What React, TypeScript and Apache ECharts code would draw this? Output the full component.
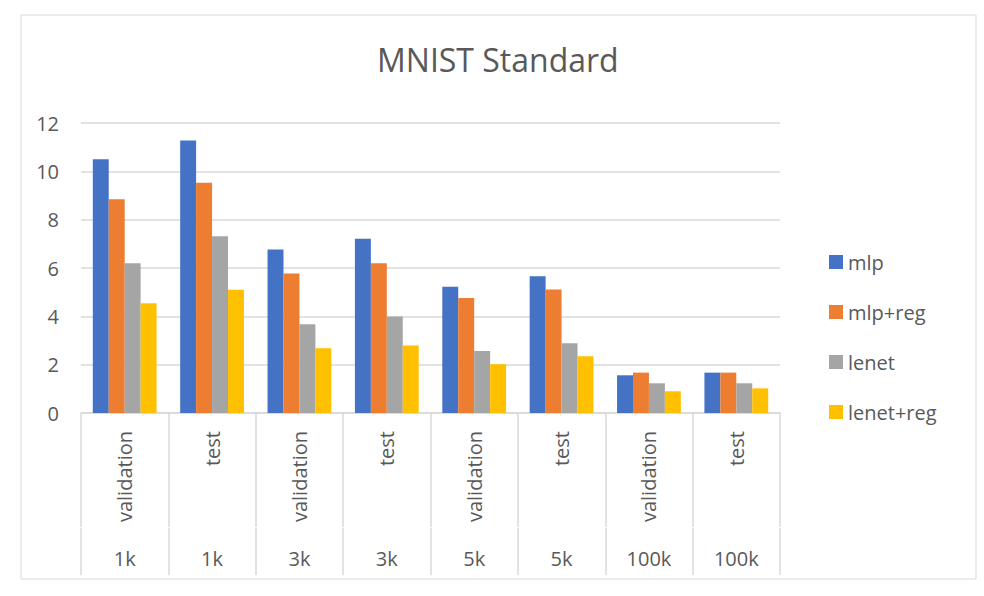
import React, { useEffect, useRef } from "react";
import * as echarts from "echarts";

const splits = ["validation", "test", "validation", "test", "validation", "test", "validation", "test"];
const sizes = ["1k", "1k", "3k", "3k", "5k", "5k", "100k", "100k"];
const seriesNames = ["mlp", "mlp+reg", "lenet", "lenet+reg"];
const mlp = [10.5, 11.28, 6.77, 7.21, 5.22, 5.66, 1.56, 1.67];
const mlpReg = [8.85, 9.53, 5.77, 6.2, 4.76, 5.11, 1.67, 1.67];
const lenet = [6.2, 7.31, 3.67, 3.99, 2.57, 2.89, 1.23, 1.23];
const lenetReg = [4.54, 5.1, 2.68, 2.79, 2.02, 2.35, 0.9, 1.02];
const yTicks = { min: 0, max: 12, interval: 2 };
const colors = ["#4472C4", "#ED7D31", "#A5A5A5", "#FFC000"];

const FONT = "'Open Sans', sans-serif";
const TXT = "#595959";
const LINE = "#d9d9d9";

export default function App() {
  const ref = useRef<HTMLDivElement>(null);
  useEffect(() => {
    if (!ref.current) return;
    const chart = echarts.init(ref.current, undefined, { renderer: "svg" });
    const values = [mlp, mlpReg, lenet, lenetReg];
    chart.setOption({
      animation: false,
      backgroundColor: "#ffffff",
      color: colors,
      title: {
        text: "MNIST Standard",
        left: 372,
        top: 38,
        textStyle: { fontFamily: FONT, fontSize: 32, fontWeight: "normal", color: TXT },
      },
      legend: {
        orient: "vertical",
        left: 824,
        top: 247,
        itemWidth: 14,
        itemHeight: 14,
        itemGap: 30,
        icon: "rect",
        data: seriesNames,
        textStyle: { fontFamily: FONT, fontSize: 20, color: TXT },
      },
      graphic: [
        {
          type: "rect",
          shape: { x: 21, y: 15, width: 955, height: 564 },
          style: { fill: "none", stroke: LINE, lineWidth: 1 },
          silent: true,
        },
      ],
      grid: { left: 81, right: 204, top: 123, bottom: 183, containLabel: false },
      xAxis: [
        {
          type: "category",
          data: splits,
          position: "bottom",
          axisLine: { show: true, lineStyle: { color: LINE, width: 1.5 } },
          axisTick: { show: true, interval: 0, length: 114, lineStyle: { color: LINE, width: 1.5 } },
          axisLabel: {
            interval: 0,
            rotate: 90,
            margin: 18,
            fontFamily: FONT,
            fontSize: 20,
            color: TXT,
          },
        },
        {
          type: "category",
          data: sizes,
          position: "bottom",
          offset: 115,
          axisLine: { show: false },
          axisTick: { show: true, interval: 0, length: 47, lineStyle: { color: LINE, width: 1.5 } },
          axisLabel: {
            interval: 0,
            margin: 20,
            fontFamily: FONT,
            fontSize: 20,
            color: TXT,
          },
        },
      ],
      yAxis: {
        type: "value",
        min: yTicks.min,
        max: yTicks.max,
        interval: yTicks.interval,
        axisLine: { show: false },
        axisTick: { show: false },
        axisLabel: { margin: 22, fontFamily: FONT, fontSize: 20, color: TXT },
        splitLine: { lineStyle: { color: LINE, width: 1.5 } },
      },
      series: seriesNames.map((name, i) => ({
        name,
        type: "bar",
        xAxisIndex: 0,
        data: values[i],
        barGap: "0%",
        barCategoryGap: "27%",
        itemStyle: { color: colors[i] },
      })),
    });
    return () => chart.dispose();
  }, []);
  return (
    <div
      ref={ref}
      style={{ position: "fixed", left: 0, top: 0, width: 984, height: 596 }}
    />
  );
}
